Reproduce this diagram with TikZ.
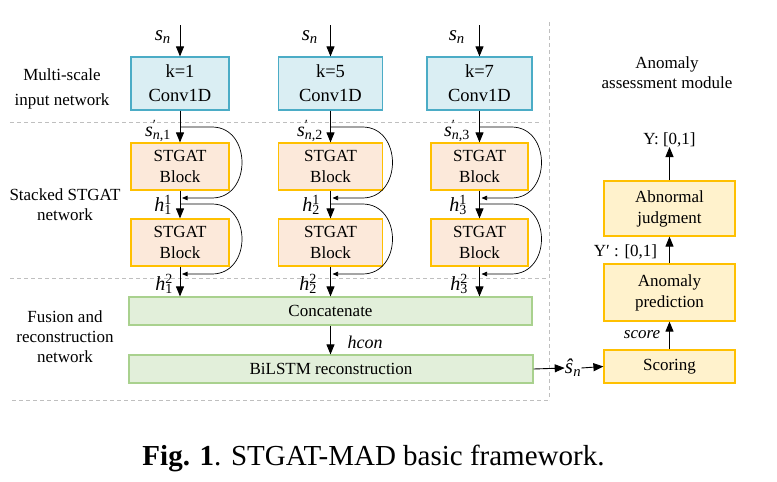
\documentclass[tikz,border=0pt]{standalone}
\usepackage{fontspec}
\setmainfont{Liberation Serif}
\usetikzlibrary{arrows.meta}
\definecolor{convfill}{HTML}{DAEEF3}
\definecolor{convline}{HTML}{4BACC6}
\definecolor{stfill}{HTML}{FCE9DA}
\definecolor{stline}{HTML}{FFC000}
\definecolor{grfill}{HTML}{E2EFDA}
\definecolor{grline}{HTML}{A9D18E}
\definecolor{yefill}{HTML}{FFF2CC}
\definecolor{yeline}{HTML}{FFC000}
\definecolor{dashgray}{HTML}{BFBFBF}
\newcommand{\mysupsub}[2]{\makebox[0pt][l]{\textsuperscript{#1}}\textsubscript{#2}}
\begin{document}
\begin{tikzpicture}[x=1pt,y=-1pt,
 box/.style={draw, line width=1.2pt, inner sep=0pt, align=center, font=\fontsize{17}{21}\selectfont},
 convbox/.style={box, fill=convfill, draw=convline, minimum height=53pt, font=\fontsize{18.5}{24}\selectfont},
 stbox/.style={box, fill=stfill, draw=stline, minimum height=47pt},
 grbox/.style={box, fill=grfill, draw=grline, minimum height=28pt},
 yebox/.style={box, fill=yefill, draw=yeline, minimum width=131pt},
 lab/.style={font=\fontsize{17}{20}\selectfont, align=center, inner sep=0pt},
 mlab/.style={font=\fontsize{20}{20}\selectfont, inner sep=0pt},
 arr/.style={-{Triangle[width=8pt,length=10pt]}, line width=0.9pt},
 skip/.style={-{Triangle[width=4.5pt,length=5.5pt]}, line width=0.7pt},
 sep/.style={draw=dashgray, dash pattern=on 4pt off 3pt, line width=0.8pt}
]
\useasboundingbox (0,0) rectangle (777,482);
\fill[white] (0,0) rectangle (777,482);

% separators
\draw[sep] (10,122) -- (542,122);
\draw[sep] (10,278) -- (548,278);
\draw[sep] (12,400) -- (549,400);
\draw[sep] (549,22) -- (549,400);

% section labels
\node[lab, font=\fontsize{17}{25}\selectfont] (l1) at (62,88.5) {Multi-scale\\input network};
\node[lab] (l2) at (65,205) {Stacked STGAT\\network};
\node[lab] (l3) at (65,337) {Fusion and\\reconstruction\\network};
\node[lab] (l4) at (667,73) {Anomaly\\assessment module};

% conv boxes
\node[convbox, minimum width=98pt] (c1) at (180,83.5) {k=1\\Conv1D};
\node[convbox, minimum width=104pt] (c2) at (330.5,83.5) {k=5\\Conv1D};
\node[convbox, minimum width=105pt] (c3) at (479.5,83.5) {k=7\\Conv1D};

% STGAT blocks
\node[stbox, minimum width=98pt] (a1) at (180,166.5) {STGAT\\Block};
\node[stbox, minimum width=104pt] (a2) at (330.5,166.5) {STGAT\\Block};
\node[stbox, minimum width=97pt] (a3) at (479.5,166.5) {STGAT\\Block};
\node[stbox, minimum width=98pt] (b1) at (180,242.5) {STGAT\\Block};
\node[stbox, minimum width=104pt] (b2) at (330.5,242.5) {STGAT\\Block};
\node[stbox, minimum width=97pt] (b3) at (479.5,242.5) {STGAT\\Block};

% fusion
\node[grbox, minimum width=403pt] (cat) at (330.5,311) {Concatenate};
\node[grbox, minimum width=404pt] (bil) at (331,369) {BiLSTM reconstruction};

% inputs
\coordinate (i1) at (180,25);
\coordinate (i2) at (330.5,25);
\coordinate (i3) at (479.5,25);
\node[mlab, anchor=east, font=\fontsize{21}{22}\selectfont] (sn1) at (171,37) {\textit{s}\textsubscript{\textit{n}}};
\node[mlab, anchor=east, font=\fontsize{21}{22}\selectfont] (sn2) at (318,37) {\textit{s}\textsubscript{\textit{n}}};
\node[mlab, anchor=east, font=\fontsize{21}{22}\selectfont] (sn3) at (465,37) {\textit{s}\textsubscript{\textit{n}}};

\foreach \k in {1,2,3}{
  \draw[arr] (i\k) -- (c\k.north);
  \draw[arr] (c\k.south) -- (a\k.north);
  \draw[arr] (a\k.south) -- (b\k.north);
  \draw[arr] (b\k.south) -- (b\k.south |- cat.north);
}

% skip loops
\foreach \x in {180,330.5,479.5}{
  \draw[skip] (\x,127) -- ({\x+32},127) .. controls ({\x+72},127) and ({\x+72},198) .. ({\x+32},198) -- ({\x+2},198);
  \draw[skip] (\x,204) -- ({\x+32},204) .. controls ({\x+72},204) and ({\x+72},274) .. ({\x+32},274) -- ({\x+2},274);
}

% labels on the columns
\node[mlab, anchor=east] (sp1) at (171,131) {\textit{s}\mysupsub{′}{\textit{n},1}};
\node[mlab, anchor=east] (sp2) at (323,131) {\textit{s}\mysupsub{′}{\textit{n},2}};
\node[mlab, anchor=east] (sp3) at (470,131) {\textit{s}\mysupsub{′}{\textit{n},3}};
\node[mlab, anchor=east] (h11) at (172,205) {\textit{h}\mysupsub{1}{1}};
\node[mlab, anchor=east] (h12) at (320,205) {\textit{h}\mysupsub{1}{2}};
\node[mlab, anchor=east] (h13) at (467,205) {\textit{h}\mysupsub{1}{3}};
\node[mlab, anchor=east] (h21) at (173,284) {\textit{h}\mysupsub{2}{1}};
\node[mlab, anchor=east] (h22) at (317,284) {\textit{h}\mysupsub{2}{2}};
\node[mlab, anchor=east] (h23) at (468,284) {\textit{h}\mysupsub{2}{3}};

% concatenate -> bilstm
\draw[arr] (cat.south -| a2) -- (bil.north -| a2);
\node[mlab, font=\fontsize{18}{20}\selectfont\itshape] (hcon) at (365,342) {hcon};

% assessment module
\node[yebox, minimum height=33pt] (sc) at (669.5,366.5) {Scoring};
\node[yebox, minimum height=57pt] (pr) at (669.5,292.5) {Anomaly\\prediction};
\node[yebox, minimum height=55pt] (ab) at (669.5,208.5) {Abnormal\\judgment};
\node[lab, anchor=south] (yl) at (669.5,147) {Y: [0,1]};
\node[lab] (ypl) at (625.5,252) {Y′ : [0,1]};
\node[lab, font=\fontsize{17}{20}\selectfont\itshape] (scl) at (642,335) {score};

\node[mlab, font=\fontsize{21}{22}\selectfont] (shat) at (573,368) {\textit{ŝ}\textsubscript{\textit{n}}};
\draw[arr] (bil.east) -- (shat.west);
\draw[arr] (shat.east) -- (sc.west);
\draw[arr] (sc.north) -- (pr.south);
\draw[arr] (pr.north) -- (ab.south);
\draw[arr] (ab.north) -- (yl.south);

% caption
\node[font=\fontsize{29}{32}\selectfont, inner sep=0pt] (cap) at (373.5,458) {\textbf{Fig. 1}. STGAT-MAD basic framework.};
\end{tikzpicture}
\end{document}
